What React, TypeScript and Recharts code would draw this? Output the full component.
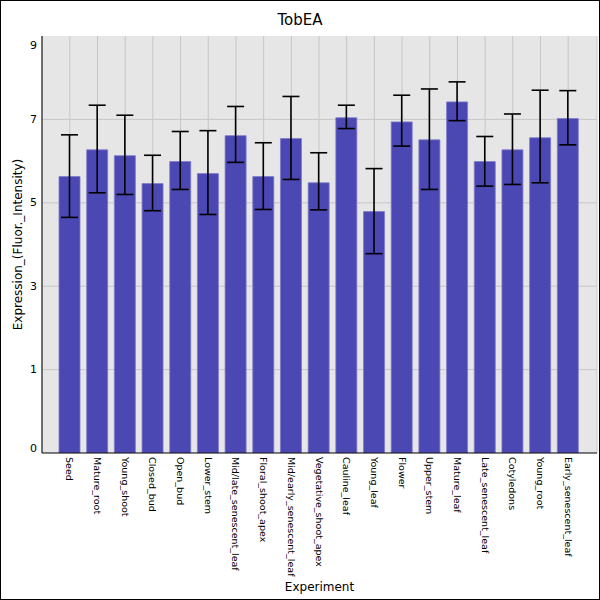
import React from "react";
import { BarChart, Bar, XAxis, YAxis, CartesianGrid, ErrorBar } from "recharts";

// Expression per tissue for TobEA, with upper/lower error bounds.
const categories = [
  "Seed",
  "Mature_root",
  "Young_shoot",
  "Closed_bud",
  "Open_bud",
  "Lower_stem",
  "Mid/late_senescent_leaf",
  "Floral_shoot_apex",
  "Mid/early_senescent_leaf",
  "Vegetative_shoot_apex",
  "Cauline_leaf",
  "Young_leaf",
  "Flower",
  "Upper_stem",
  "Mature_leaf",
  "Late_senescent_leaf",
  "Cotyledons",
  "Young_root",
  "Early_senescent_leaf",
];

const means = [
  5.63, 6.27, 6.13, 5.46, 5.99, 5.7, 6.61, 5.63, 6.54, 5.48, 7.04, 4.79, 6.94,
  6.51, 7.42, 5.99, 6.27, 6.56, 7.02,
];
const upper = [
  6.63, 7.34, 7.1, 6.14, 6.71, 6.73, 7.31, 6.44, 7.55, 6.2, 7.34, 5.82, 7.58,
  7.73, 7.9, 6.59, 7.13, 7.7, 7.69,
];
const lower = [
  4.65, 5.24, 5.2, 4.81, 5.32, 4.72, 5.97, 4.84, 5.56, 4.83, 6.78, 3.78, 6.36,
  5.32, 6.97, 5.4, 5.44, 5.48, 6.39,
];

// the axis floor sits one unit below zero but is labelled "0"
const yFloor = -1;
const yTicks = [-1, 1, 3, 5, 7, 9];
const yTickLabels = ["0", "1", "3", "5", "7", "9"];

const data = categories.map((name, i) => ({
  name,
  range: [yFloor, means[i]],
  err: [means[i] - lower[i], upper[i] - means[i]],
}));

const FONT = "'DejaVu Sans', sans-serif";

function YTick(props: any) {
  const { x, y, payload } = props;
  const idx = yTicks.indexOf(payload.value);
  let dy = 0;
  if (payload.value === 9) dy = 9;
  if (payload.value === yFloor) dy = -5;
  return (
    <text
      x={x}
      y={y + dy}
      textAnchor="end"
      dominantBaseline="central"
      fontSize={11}
      fontFamily={FONT}
      fill="#000"
    >
      {yTickLabels[idx]}
    </text>
  );
}

function XTick(props: any) {
  const { x, y, payload } = props;
  return (
    <text
      transform={`translate(${x},${y}) rotate(90)`}
      textAnchor="start"
      dominantBaseline="central"
      fontSize={9.5}
      fontFamily={FONT}
      fill="#000"
    >
      {payload.value}
    </text>
  );
}

export default function App() {
  return (
    <div
      style={{
        position: "absolute",
        left: 0,
        top: 0,
        width: 600,
        height: 600,
        background: "#fff",
      }}
    >
      <div
        style={{
          position: "absolute",
          left: 0,
          top: 11,
          width: 600,
          textAlign: "center",
          fontFamily: FONT,
          fontSize: 15,
          lineHeight: "18px",
          color: "#000",
        }}
      >
        TobEA
      </div>
      <BarChart
        width={600}
        height={600}
        data={data}
        margin={{ top: 36, right: 3, left: 0, bottom: 0 }}
      >
        <CartesianGrid
          fill="#e6e6e6"
          stroke="#c6c6c6"
          horizontalValues={[1, 3, 5, 7]}
        />
        <XAxis
          dataKey="name"
          interval={0}
          height={147}
          padding={{ left: 14, right: 15 }}
          tickLine={false}
          tickSize={0}
          tickMargin={4}
          axisLine={{ stroke: "#000" }}
          tick={<XTick />}
          label={{
            value: "Experiment",
            position: "insideBottom",
            offset: 9,
            style: { fontFamily: FONT, fontSize: 12, fill: "#000" },
          }}
        />
        <YAxis
          type="number"
          domain={[yFloor, 9]}
          ticks={yTicks}
          allowDataOverflow
          width={42}
          tickLine={false}
          tickSize={0}
          tickMargin={5}
          axisLine={{ stroke: "#000" }}
          tick={<YTick />}
          label={{
            value: "Expression_(Fluor._Intensity)",
            angle: -90,
            position: "insideLeft",
            offset: 18,
            style: {
              fontFamily: FONT,
              fontSize: 12,
              fill: "#000",
              textAnchor: "middle",
            },
          }}
        />
        <Bar
          dataKey="range"
          fill="#4b47b3"
          stroke="#7d7acb"
          strokeWidth={0.8}
          barSize={21}
          isAnimationActive={false}
        >
          <ErrorBar
            dataKey="err"
            width={8.5}
            stroke="#000"
            strokeWidth={1.6}
          />
        </Bar>
      </BarChart>
      <div
        style={{
          position: "absolute",
          inset: 0,
          border: "1px solid #000",
          boxSizing: "border-box",
          pointerEvents: "none",
        }}
      />
    </div>
  );
}
